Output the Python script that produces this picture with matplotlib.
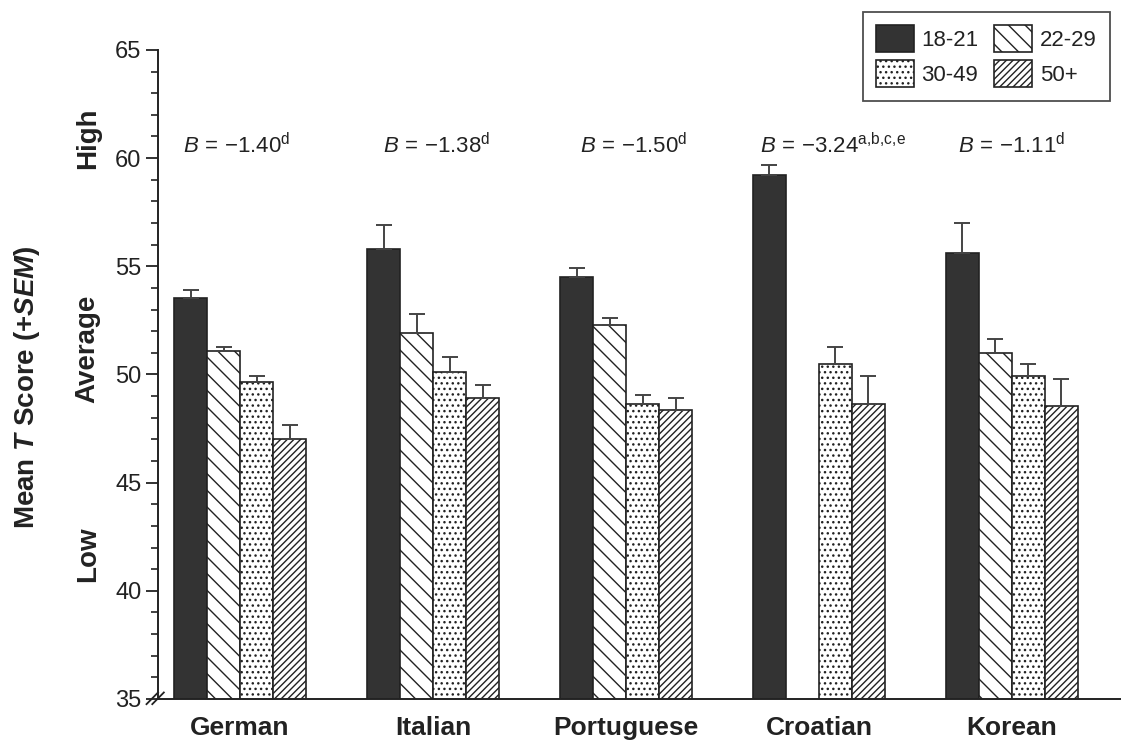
import numpy as np
import matplotlib
matplotlib.use('Agg')
import matplotlib.pyplot as plt
import matplotlib.transforms as mtransforms

# Data (mean T score and +SEM per age group)
groups = ['German', 'Italian', 'Portuguese', 'Croatian', 'Korean']
ages = ['18-21', '22-29', '30-49', '50+']
nan = np.nan
m_18_21 = [53.55, 55.8, 54.5, 59.2, 55.6]
m_22_29 = [51.1, 51.9, 52.3, nan, 51.0]
m_30_49 = [49.65, 50.1, 48.65, 50.5, 49.95]
m_50plus = [47.0, 48.9, 48.35, 48.65, 48.55]
sem_18_21 = [0.35, 1.1, 0.4, 0.5, 1.4]
sem_22_29 = [0.15, 0.9, 0.3, nan, 0.65]
sem_30_49 = [0.3, 0.7, 0.4, 0.75, 0.55]
sem_50plus = [0.65, 0.6, 0.55, 1.3, 1.25]
b_values = ['-1.40', '-1.38', '-1.50', '-3.24', '-1.11']
b_marks = ['d', 'd', 'd', 'a{,}b{,}c{,}e', 'd']
levels = ['High', 'Average', 'Low']
level_y = [60.9, 51.2, 41.7]

means = [m_18_21, m_22_29, m_30_49, m_50plus]
sems = [sem_18_21, sem_22_29, sem_30_49, sem_50plus]

plt.rcParams['font.family'] = ['Liberation Sans', 'DejaVu Sans']
plt.rcParams['mathtext.fontset'] = 'custom'
plt.rcParams['mathtext.rm'] = 'Liberation Sans'
plt.rcParams['mathtext.it'] = 'Liberation Sans:italic'
plt.rcParams['mathtext.bf'] = 'Liberation Sans:italic:bold'
plt.rcParams['hatch.linewidth'] = 1.0

ink = '#222222'
faces = ['#333333', 'white', 'white', 'white']
hatches = [None, '\\\\', '...', '/////']

fig = plt.figure(figsize=(11.21, 7.49), dpi=100)
ax = fig.add_axes([0.141, 0.0668, 0.859, 0.8665])

x = np.arange(len(groups))
w = 0.171
for k in range(4):
    xs = x + (k - 1.5) * w
    ax.bar(xs, means[k], w, color=faces[k], edgecolor=ink, linewidth=1.2,
           hatch=hatches[k], label=ages[k], zorder=2)
    ax.errorbar(xs, means[k], yerr=[np.zeros(len(groups)), sems[k]], fmt='none',
                ecolor='#444444', elinewidth=1.4, capsize=6, capthick=1.4, zorder=3)

ax.set_ylim(35, 65)
ax.set_xlim(-0.425, 4.565)
ax.set_yticks(np.arange(35, 66, 5))
ax.set_yticks(np.arange(35, 66, 1), minor=True)
ax.tick_params(axis='y', which='major', length=9, width=1.3, color=ink,
               labelsize=17, labelcolor=ink, pad=3)
ax.tick_params(axis='y', which='minor', length=5, width=1.2, color=ink)
ax.set_xticks(x)
ax.set_xticklabels(groups, fontsize=19, fontweight='bold', color=ink)
ax.tick_params(axis='x', length=0, pad=12)
for s in ['top', 'right']:
    ax.spines[s].set_visible(False)
for s in ['left', 'bottom']:
    ax.spines[s].set_linewidth(1.4)
    ax.spines[s].set_color(ink)

# axis break mark
for dx in (0.0, 0.006):
    ax.plot([-0.012 + dx, 0.0 + dx], [-0.008, 0.010], transform=ax.transAxes,
            color=ink, lw=1.3, clip_on=False, zorder=5)

# regression slope annotations
b_left = [-0.295, 0.741, 1.761, 2.694, 3.72]
for i in range(len(groups)):
    num = b_values[i].replace('-', '\u2212')
    txt = r'$\mathit{B}\,=\,\mathrm{%s}^{\mathrm{%s}}$' % (num, b_marks[i])
    ax.text(b_left[i], 60.6, txt, fontsize=16, color=ink, ha='left', va='center')

trans = mtransforms.blended_transform_factory(ax.transAxes, ax.transData)
for lab, yy in zip(levels, level_y):
    ax.text(-0.073, yy, lab, transform=trans, rotation=90, ha='center', va='center',
            fontsize=20, fontweight='bold', color=ink)

fig.text(0.024, 0.483, r'Mean $\mathbf{T}$ Score (+$\mathbf{SEM}$)', rotation=90,
         ha='center', va='center', fontsize=20, fontweight='bold', color=ink)

handles, labels = ax.get_legend_handles_labels()
order = [0, 2, 1, 3]
leg = ax.legend([handles[i] for i in order], [labels[i] for i in order], ncol=2,
                loc='upper right', bbox_to_anchor=(0.99, 0.984),
                bbox_transform=fig.transFigure, borderaxespad=0, fontsize=16,
                frameon=True, fancybox=False, edgecolor=ink, handlelength=1.7,
                handleheight=1.5, columnspacing=0.7, handletextpad=0.35,
                borderpad=0.6, labelspacing=0.35)
leg.get_frame().set_linewidth(1.3)
for t in leg.get_texts():
    t.set_color(ink)

fig.savefig('out.png', dpi=100)
